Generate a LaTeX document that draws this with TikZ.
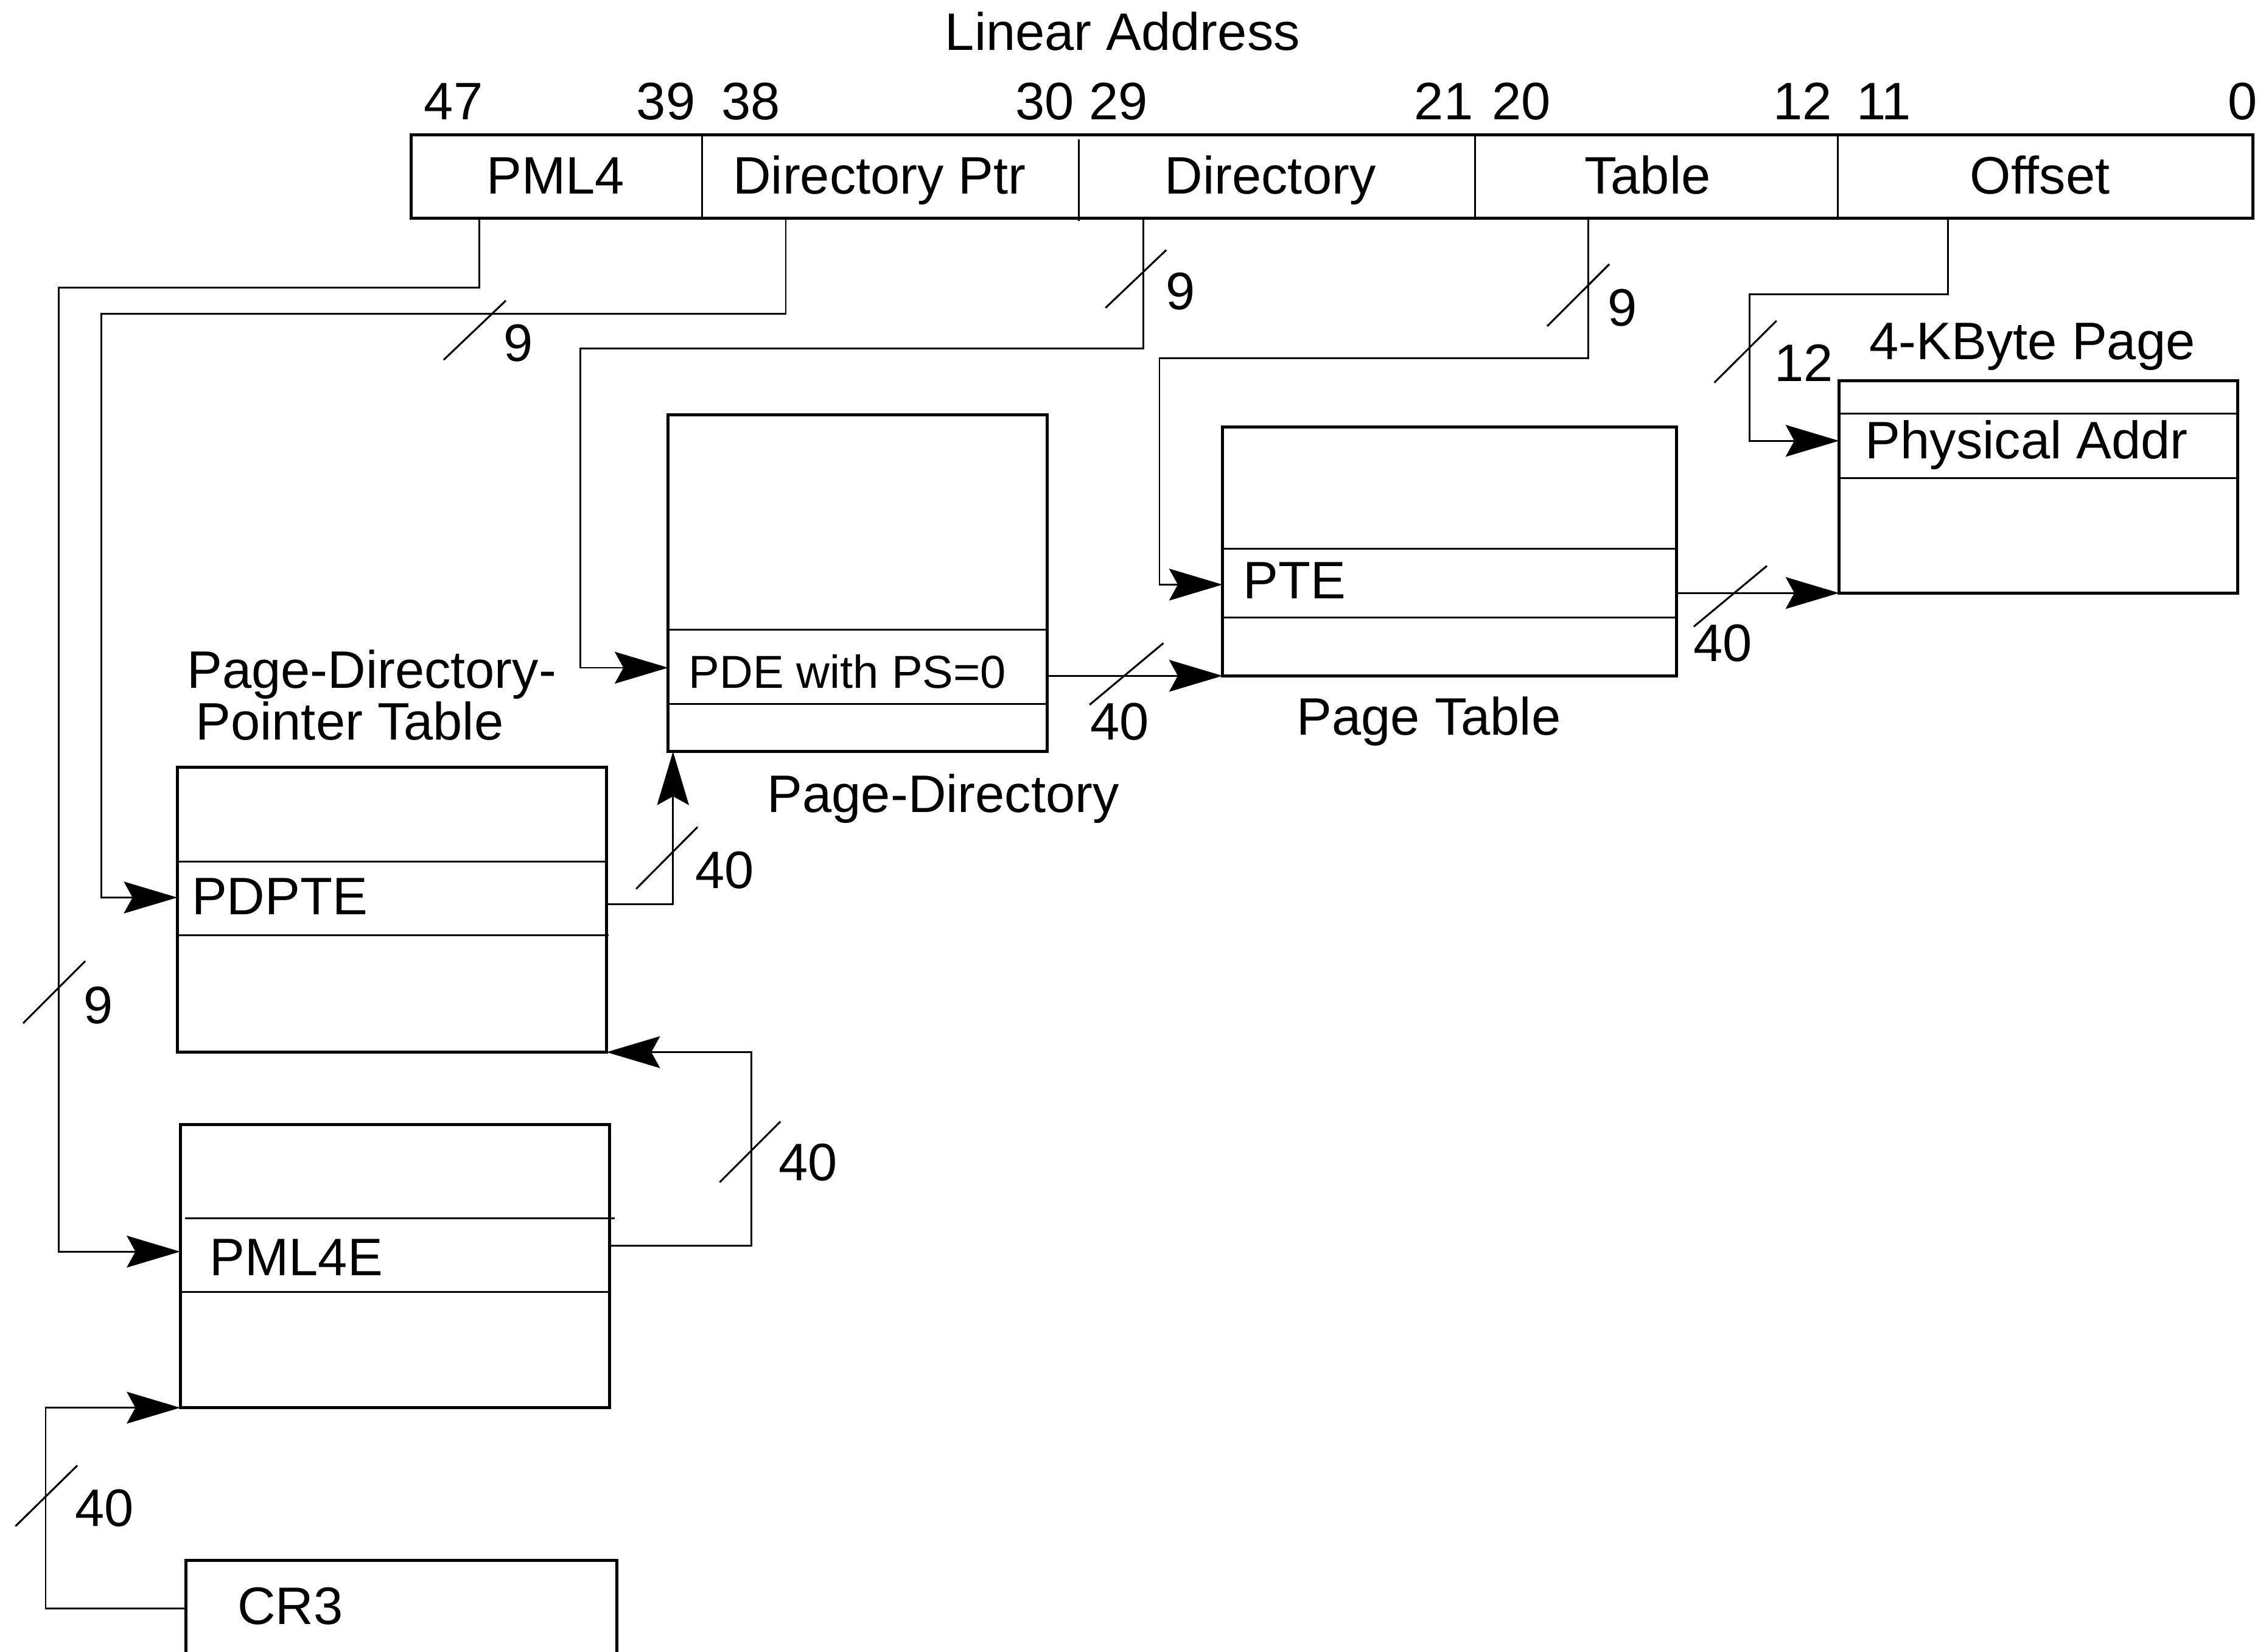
\documentclass[tikz,border=0pt]{standalone}
\usepackage{fontspec}
\setmainfont{Liberation Sans}
\usetikzlibrary{arrows.meta}

\tikzset{
  tbl/.style={draw, rectangle, line width=2.1pt, inner sep=0pt, outer sep=0pt, anchor=north west},
  row/.style={line width=1.3pt},
  conn/.style={line width=1.2pt},
  ptr/.style={conn, -{Stealth[length=37pt, width=22pt, inset=6pt]}},
  tick/.style={line width=1.3pt},
  lbl/.style={inner sep=0pt, anchor=base west},
  ctr/.style={inner sep=0pt, anchor=base},
}

\begin{document}
\begin{tikzpicture}[x=1pt, y=-1pt, font=\fontsize{36.5}{44}\selectfont]
\useasboundingbox (0,0) rectangle (1568,1143);

% linear address
\node[ctr] (la) at (776.8,34.8) {Linear Address};
\foreach \x/\b in {313.8/47, 460.8/39, 519.4/38, 722.8/30, 774/29, 999/21, 1052.7/20, 1247.4/12, 1303.5/11, 1552/0}
  \node[ctr] (bit\b) at (\x,82.8) {\b};
\node[tbl, minimum width=1274.5pt, minimum height=57.7pt] (bar) at (284.5,93.3) {};
\draw[row] (486,93.3) -- (486,151);
\draw[row] (746.4,96.5) -- (746.4,153);
\draw[row] (1020.8,93.3) -- (1020.8,151);
\draw[row] (1271.7,93.3) -- (1271.7,151);
\foreach \x/\n/\t in {384.4/fpml4/PML4, 608.6/fdirptr/Directory Ptr, 879/fdir/Directory, 1140/ftable/Table, 1411.5/foffset/Offset}
  \node[ctr] (\n) at (\x,134) {\t};
\coordinate (tpml4) at (331.5,151);
\coordinate (tdirptr) at (543.7,151);
\coordinate (tdir) at (791.2,151);
\coordinate (ttable) at (1099,151);
\coordinate (toffset) at (1348,151);

% tables
\node[tbl, minimum width=298pt, minimum height=66pt] (cr3) at (128.8,1079.6) {};
\node[lbl] (cr3txt) at (164.2,1124) {CR3};

\node[tbl, minimum width=297pt, minimum height=196pt] (pml4t) at (124.7,778) {};
\draw[row] (128,843) -- (425.5,843);
\draw[row] (124.7,894) -- (423,894);
\node[lbl] (pml4e) at (145,882.7) {PML4E};

\node[tbl, minimum width=297pt, minimum height=197pt] (pdpt) at (122.7,531) {};
\draw[row] (pdpt.west |- 0,596) -- (pdpt.east |- 0,596);
\draw[row] (pdpt.west |- 0,647) -- (421,647);
\node[lbl] (pdpte) at (132.5,632.6) {PDPTE};
\node[lbl] (pdpttl1) at (129.2,476) {Page-Directory-};
\node[lbl] (pdpttl2) at (135.2,512) {Pointer Table};

\node[tbl, minimum width=262.3pt, minimum height=233pt] (pdir) at (462.4,287) {};
\draw[row] (pdir.west |- 0,435.5) -- (pdir.east |- 0,435.5);
\draw[row] (pdir.west |- 0,487) -- (pdir.east |- 0,487);
\node[lbl, font=\fontsize{32}{38}\selectfont] (pde) at (476.4,476) {PDE with PS=0};
\node[lbl] (pdirtl) at (530.8,562) {Page-Directory};

\node[tbl, minimum width=314pt, minimum height=172.3pt] (ptbl) at (846,295.3) {};
\draw[row] (ptbl.west |- 0,379.5) -- (ptbl.east |- 0,379.5);
\draw[row] (ptbl.west |- 0,427.4) -- (ptbl.east |- 0,427.4);
\node[lbl] (pte) at (860.2,414.3) {PTE};
\node[lbl] (ptbltl) at (897.2,508.5) {Page Table};

\node[tbl, minimum width=275.7pt, minimum height=147pt] (page) at (1272.6,263.3) {};
\draw[row] (page.west |- 0,286) -- (page.east |- 0,286);
\draw[row] (page.west |- 0,331) -- (page.east |- 0,331);
\node[lbl] (phys) at (1290.6,317.3) {Physical Addr};
\node[lbl] (pagetl) at (1293.5,248.5) {4-KByte Page};

% index lines
\draw[ptr] (tpml4) |- (40.5,199) |- (pml4t.west |- 0,866);
\draw[ptr] (tdirptr) |- (70,217) |- (pdpt.west |- 0,621);
\draw[ptr] (tdir) |- (401.5,241) |- (pdir.west |- 0,462);
\draw[ptr] (ttable) |- (802.3,248) |- (ptbl.west |- 0,404.5);
\draw[ptr] (toffset) |- (1210.5,203.7) |- (page.west |- 0,305);

% base address lines
\draw[ptr] (cr3.west |- 0,1113) -| (31.6,974) -- (pml4t.south west);
\draw[ptr] (pml4t.east |- 0,862) -| (520,728) -- (pdpt.south east);
\draw[ptr] (pdpt.east |- 0,625.8) -| ([xshift=3.3pt]pdir.south west);
\draw[ptr] (pdir.east |- ptbl.south west) -- (ptbl.south west);
\draw[ptr] (ptbl.east |- page.south west) -- (page.south west);

% bus widths
\draw[tick] (16,708) -- (59,665);
\node[lbl] (w1) at (57.5,708) {9};
\draw[tick] (307,249) -- (350,208);
\node[lbl] (w2) at (348.5,250) {9};
\draw[tick] (765,213) -- (807,173);
\node[lbl] (w3) at (806.5,214) {9};
\draw[tick] (1070.6,225.7) -- (1113.6,182.8);
\node[lbl] (w4) at (1112.5,225.5) {9};
\draw[tick] (1186.2,264.8) -- (1229.3,221.9);
\node[lbl] (w5) at (1227.7,264) {12};
\draw[tick] (10.7,1056) -- (53.5,1014);
\node[lbl] (w6) at (51.8,1056) {40};
\draw[tick] (498,818) -- (540,776);
\node[lbl] (w7) at (538.8,817) {40};
\draw[tick] (440.2,615) -- (482.7,572.2);
\node[lbl] (w8) at (481.1,614.7) {40};
\draw[tick] (754,487.6) -- (805,445);
\node[lbl] (w9) at (754.1,512) {40};
\draw[tick] (1172,433.6) -- (1222.7,391.5);
\node[lbl] (w10) at (1171.8,457.5) {40};
\end{tikzpicture}
\end{document}
